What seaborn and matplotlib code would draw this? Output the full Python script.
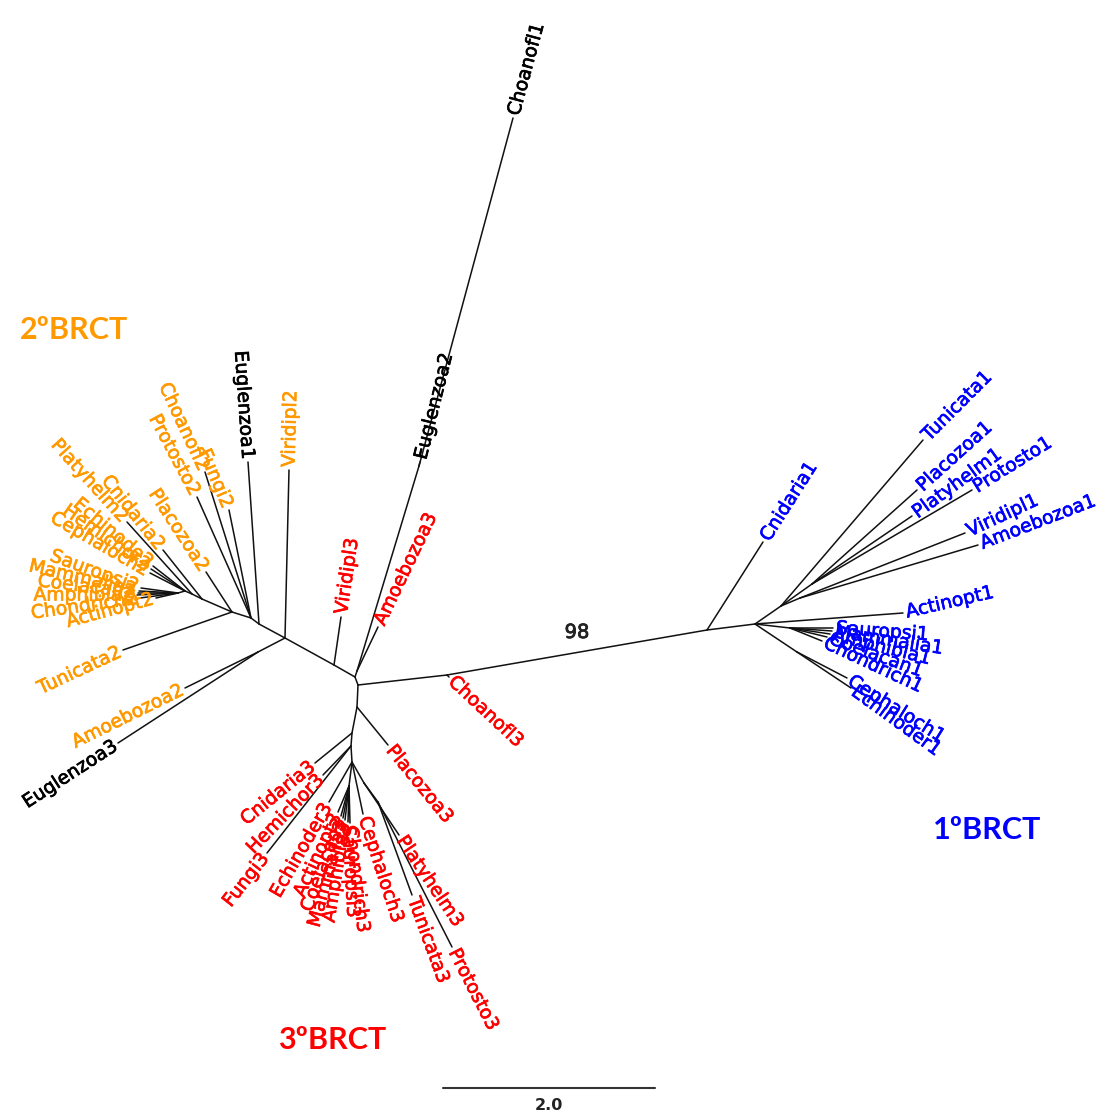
import numpy as np
import pandas as pd
import matplotlib
matplotlib.use("Agg")
import matplotlib.pyplot as plt
import matplotlib.patheffects as pe
import seaborn as sns

# ---------------- data: unrooted tree layout (layout units = pixels) ----------------
node_name = [
    "C0", "C2", "R1", "R2", "R3", "R4", "R5", "R6", "R7",
    "A1", "A2", "E", "V", "B0", "B8", "B1", "B2", "B3", "B4", "B5", "B6", "B7",
    "D0", "D1", "D2", "D3", "D4", "D5", "D6",
    "Choanofl3", "Cnidaria1", "Tunicata1", "Placozoa1", "Platyhelm1", "Protosto1",
    "Viridipl1", "Amoebozoa1", "Actinopt1", "Sauropsi1", "Mammalia1", "Amphibia1",
    "Coelacan1", "Chondrich1", "Cephaloch1", "Echinoder1",
    "Amoebozoa3", "Euglenzoa2", "Choanofl1", "Viridipl3", "Viridipl2",
    "Amoebozoa2", "Euglenzoa3", "Euglenzoa1", "Fungi2", "Choanofl2", "Protosto2",
    "Tunicata2", "Placozoa2", "Cnidaria2", "Platyhelm2", "Echinode2", "Hemichor2",
    "Cephaloch2", "Sauropsi2", "Mammalia2", "Coelacan2", "Amphibia2", "Chondrich2",
    "Actinopt2",
    "Placozoa3", "Cnidaria3", "Hemichor3", "Fungi3", "Echinoder3", "Cephaloch3",
    "Platyhelm3", "Tunicata3", "Protosto3", "Actinopt3", "Coelacan3", "Mammalia3",
    "Amphibia3", "Sauropsi3", "Chondrich3",
]
node_x = [
    358, 447, 707, 755, 781, 812, 800, 790, 797,
    355, 357, 419, 334, 285, 258, 259, 251, 232, 202, 192, 185, 178,
    357, 352, 351, 352, 364, 349, 378,
    449, 763, 923, 917, 912, 972,
    965, 978, 903, 833, 832, 830,
    827, 822, 847, 851,
    378, 420, 513, 341, 289,
    185, 118, 248, 229, 205, 197,
    123, 206, 163, 127, 153, 151,
    150, 141, 139, 138, 137, 140,
    156,
    388, 315, 323, 267, 329, 363,
    399, 412, 452, 338, 341, 343,
    345, 348, 350,
]
node_y = [
    685, 675, 630, 624, 606, 584, 598, 628, 652,
    677, 671, 466, 665, 638, 652, 624, 618, 612, 599, 594, 591, 593,
    707, 733, 746, 762, 783, 786, 802,
    677, 542, 440, 490, 516, 490,
    533, 545, 613, 628, 631, 634,
    637, 641, 678, 688,
    627, 462, 118, 617, 470,
    688, 743, 462, 510, 472, 497,
    650, 572, 550, 522, 566, 569,
    573, 588, 591, 593, 595, 598,
    598,
    745, 763, 775, 853, 802, 814,
    835, 895, 947, 812, 816, 818,
    820, 822, 823,
]
node_parent = [
    None, "C0", "C2", "R1", "R2", "R3", "R3", "R2", "R2",
    "C0", "A1", "A2", "A1", "V", "B0", "B0", "B1", "B2", "B3", "B4", "B5", "B6",
    "C0", "D0", "D1", "D2", "D3", "D3", "D4",
    "C2", "R1", "R3", "R4", "R4", "R4",
    "R5", "R5", "R2", "R6", "R6", "R6",
    "R6", "R6", "R7", "R7",
    "A2", "E", "E", "V", "B0",
    "B8", "B8", "B1", "B2", "B2", "B2",
    "B3", "B3", "B4", "B5", "B6", "B6",
    "B6", "B7", "B7", "B7", "B7", "B7",
    "B7",
    "D0", "D1", "D2", "D2", "D3", "D3",
    "D4", "D6", "D6", "D5", "D5", "D5",
    "D5", "D5", "D5",
]
black_leaves = ["Choanofl1", "Euglenzoa1", "Euglenzoa2", "Euglenzoa3"]
support = {"R1": "98"}
scale_length = 2.0

# ---------------- style / layout ----------------
PX_PER_UNIT = 106.0
clade_colors = {"1": "#0000FF", "2": "#FF9900", "3": "#FF0000"}
label_dir = {  # direction of leaf labels (degrees, counter-clockwise)
    "Tunicata1": 45, "Placozoa1": 42, "Platyhelm1": 36, "Protosto1": 32,
    "Viridipl1": 25, "Amoebozoa1": 21, "Actinopt1": 13, "Sauropsi1": -4,
    "Mammalia1": -9, "Amphibia1": -14, "Coelacan1": -20, "Chondrich1": -25,
    "Cephaloch1": -32, "Echinoder1": -36,
    "Fungi2": 113, "Choanofl2": 115, "Protosto2": 118, "Tunicata2": 205,
    "Echinode2": 140, "Hemichor2": 145, "Cephaloch2": 150,
    "Sauropsi2": 160, "Mammalia2": 167, "Coelacan2": 173, "Amphibia2": 180,
    "Chondrich2": 188, "Actinopt2": 195,
    "Actinopt3": 245, "Coelacan3": 250, "Mammalia3": 255, "Amphibia3": 261,
    "Sauropsi3": 273, "Chondrich3": 277, "Cephaloch3": 288,
    "Choanofl3": 317, "Euglenzoa2": 76,
}
clade_titles = [("1ºBRCT", 987, 830, "1"), ("2ºBRCT", 74, 330, "2"), ("3ºBRCT", 332, 1040, "3")]
scalebar_origin = (443, 1088)

# ---------------- build ----------------
sns.set_style("white")
plt.rcParams["font.family"] = ["DejaVu Sans"]

pos = {n: (x, y) for n, x, y in zip(node_name, node_x, node_y)}
parents = set(p for p in node_parent if p is not None)

rows = []
for i, (n, p) in enumerate(zip(node_name, node_parent)):
    if p is None:
        continue
    rows.append({"edge": i, "k": 0, "x": pos[p][0], "y": pos[p][1]})
    rows.append({"edge": i, "k": 1, "x": pos[n][0], "y": pos[n][1]})
edges = pd.DataFrame(rows)

fig = plt.figure(figsize=(11.15, 11.15), dpi=100)
ax = fig.add_axes([0, 0, 1, 1])
sns.lineplot(data=edges, x="x", y="y", units="edge", estimator=None, sort=False,
             color="#111111", linewidth=1.1, ax=ax, legend=False)

gap = 3.0
for n, p in zip(node_name, node_parent):
    if p is None or n in parents:
        continue
    tx, ty = pos[n]
    px, py = pos[p]
    if n in label_dir:
        ang = label_dir[n]
    else:
        ang = np.degrees(np.arctan2(-(ty - py), tx - px))
    ang = (ang + 360) % 360
    rad = np.radians(ang)
    ax_, ay_ = tx + gap * np.cos(rad), ty - gap * np.sin(rad)
    if np.cos(rad) >= -1e-9:
        rot, ha = (ang if ang <= 90 else ang - 360), "left"
    else:
        rot, ha = ang - 180, "right"
    color = "black" if n in black_leaves else clade_colors[n[-1]]
    ax.text(ax_, ay_, n, rotation=rot, ha=ha, va="center", rotation_mode="anchor",
            fontsize=13.5, color=color,
            path_effects=[pe.withStroke(linewidth=0.5, foreground=color)])

# bootstrap support
for n, s in support.items():
    i = node_name.index(n)
    p = node_parent[i]
    mx = (pos[n][0] + pos[p][0]) / 2
    my = (pos[n][1] + pos[p][1]) / 2
    ax.text(mx, my - 20, s, ha="center", va="center", fontsize=14, color="#222222",
            path_effects=[pe.withStroke(linewidth=0.6, foreground="#222222")])

# clade titles
for t, x, y, c in clade_titles:
    ax.text(x, y, t, ha="center", va="center", fontsize=22, fontweight="bold",
            color=clade_colors[c], family=["Lato", "DejaVu Sans"])

# scale bar
sx, sy = scalebar_origin
bar = pd.DataFrame({"x": [sx, sx + scale_length * PX_PER_UNIT], "y": [sy, sy]})
sns.lineplot(data=bar, x="x", y="y", estimator=None, sort=False, color="#333333",
             linewidth=1.5, ax=ax, legend=False)
ax.text(sx + scale_length * PX_PER_UNIT / 2, sy + 17, f"{scale_length:.1f}",
        ha="center", va="center", fontsize=11.5, fontweight="bold", color="#222222")

ax.set_xlim(0, 1115)
ax.set_ylim(1115, 0)
ax.set_axis_off()
fig.savefig("out.png", dpi=100, facecolor="white")
